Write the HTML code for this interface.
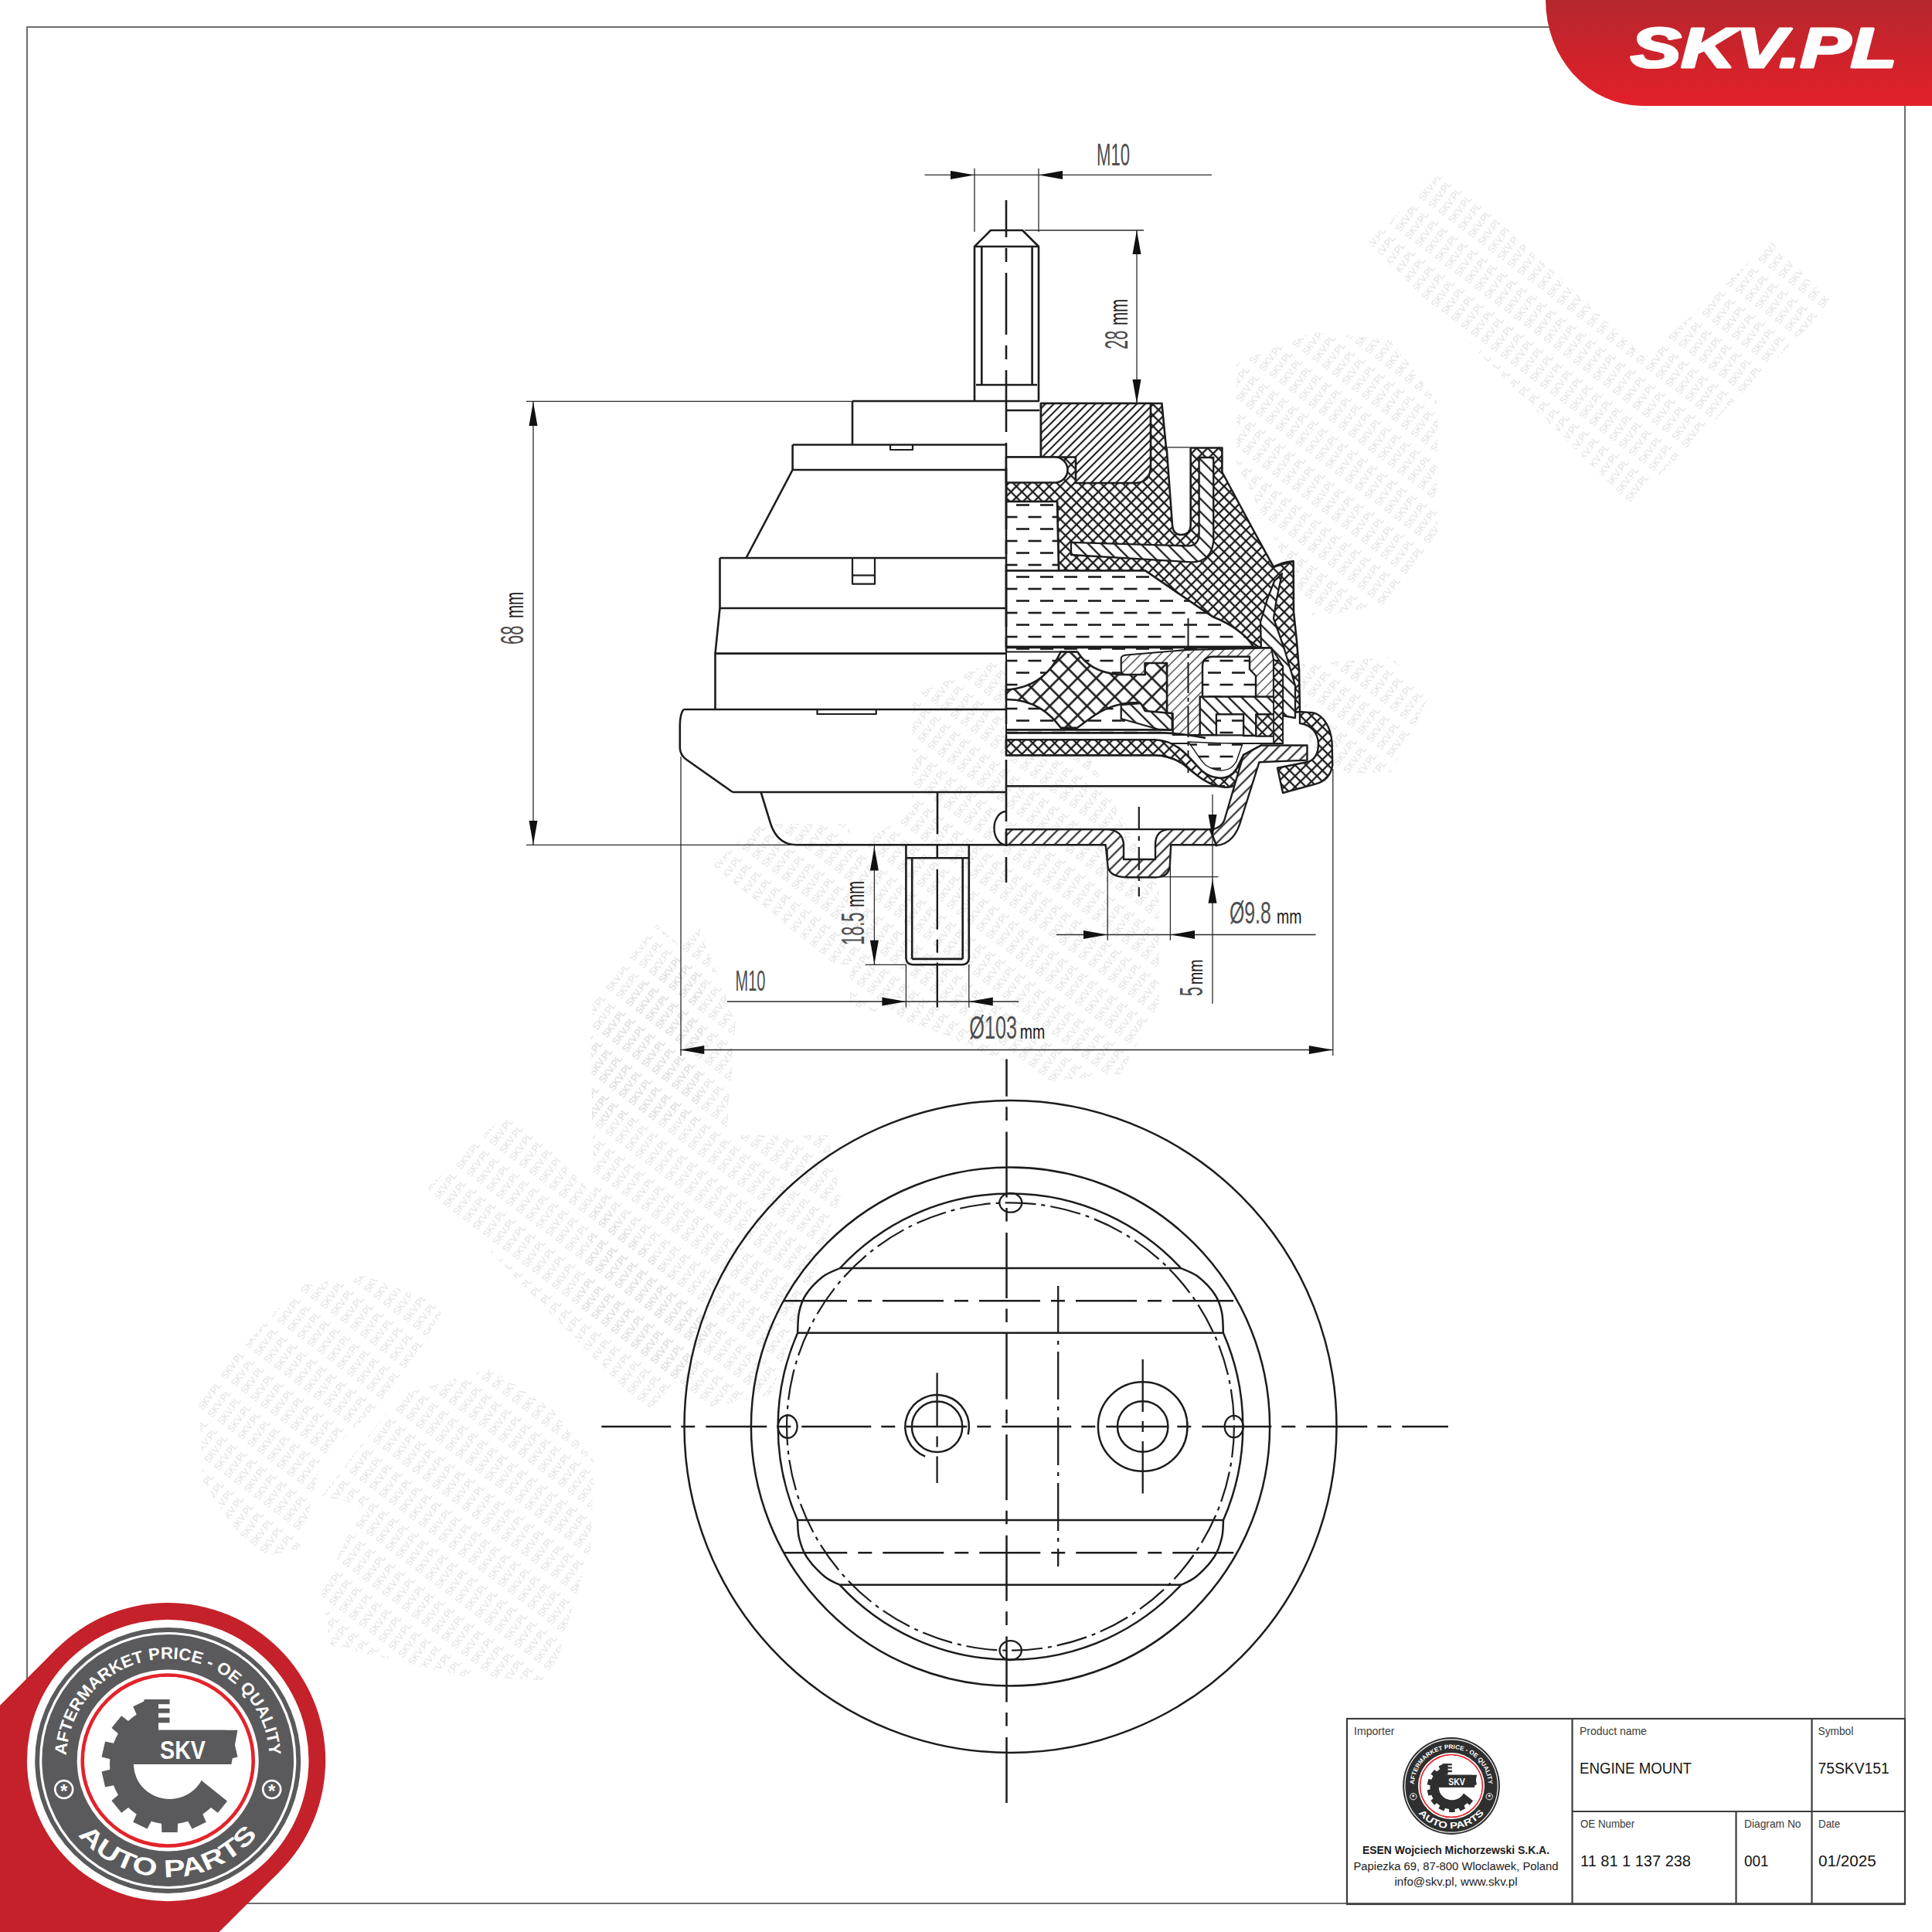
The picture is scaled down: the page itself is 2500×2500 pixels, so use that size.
<!DOCTYPE html><html><head><meta charset="utf-8"><title>75SKV151 Engine Mount</title><style>html,body{margin:0;padding:0;background:#fff;}svg{display:block;}</style></head><body>
<svg width="2500" height="2500" viewBox="0 0 2500 2500">
<rect width="2500" height="2500" fill="#fff"/>
<defs><pattern id="hA" width="7.6" height="7.6" patternUnits="userSpaceOnUse" patternTransform="rotate(45)"><rect width="7.6" height="7.6" fill="#fff"/><line x1="3.8" y1="-1" x2="3.8" y2="8.6" stroke="#1c1c1c" stroke-width="2.1"/></pattern><pattern id="hB" width="12" height="12" patternUnits="userSpaceOnUse" patternTransform="rotate(-45)"><rect width="12" height="12" fill="#fff"/><line x1="6.0" y1="-1" x2="6.0" y2="13" stroke="#1c1c1c" stroke-width="2.3"/></pattern><pattern id="hC" width="10.5" height="10.5" patternUnits="userSpaceOnUse" patternTransform="rotate(45)"><rect width="10.5" height="10.5" fill="#fff"/><line x1="5.25" y1="-1" x2="5.25" y2="11.5" stroke="#1c1c1c" stroke-width="2.0"/></pattern><pattern id="hD" width="9" height="9" patternUnits="userSpaceOnUse" patternTransform="rotate(45)"><rect width="9" height="9" fill="#fff"/><line x1="4.5" y1="-1" x2="4.5" y2="10" stroke="#333" stroke-width="1.3"/></pattern><pattern id="xh" width="10" height="10" patternUnits="userSpaceOnUse" patternTransform="rotate(45)"><rect width="10" height="10" fill="#fff"/><line x1="5.0" y1="-1" x2="5.0" y2="11" stroke="#1c1c1c" stroke-width="2.3"/><line x1="-1" y1="5.0" x2="11" y2="5.0" stroke="#1c1c1c" stroke-width="2.3"/></pattern><pattern id="xw" width="17" height="17" patternUnits="userSpaceOnUse" patternTransform="rotate(45)"><rect width="17" height="17" fill="#fff"/><line x1="8.5" y1="-1" x2="8.5" y2="18" stroke="#1c1c1c" stroke-width="2.6"/><line x1="-1" y1="8.5" x2="18" y2="8.5" stroke="#1c1c1c" stroke-width="2.6"/></pattern><pattern id="fl" width="31" height="31" patternUnits="userSpaceOnUse" x="1310" y="651"><rect width="31" height="31" fill="#fff"/><line x1="5" y1="2.5" x2="22" y2="2.5" stroke="#1c1c1c" stroke-width="2.6"/><line x1="20.5" y1="18" x2="37.5" y2="18" stroke="#1c1c1c" stroke-width="2.6"/><line x1="-10.5" y1="18" x2="6.5" y2="18" stroke="#1c1c1c" stroke-width="2.6"/></pattern></defs>
<defs><pattern id="wm" width="50" height="16" patternUnits="userSpaceOnUse" patternTransform="rotate(-53)"><text x="0" y="12" font-family="Liberation Sans" font-size="13.5" fill="#dedede" textLength="41" lengthAdjust="spacingAndGlyphs">SKV.PL</text></pattern></defs>
<path d="M1770.0,313.0 L1868.0,220.0 L2129.0,462.0 L2292.0,313.0 L2371.0,392.0 L2110.0,653.0 Z" fill="url(#wm)"/>
<path d="M1600.0,470.0 L1700.0,430.0 L1800.0,440.0 L1860.0,520.0 L1860.0,700.0 L1800.0,780.0 L1700.0,800.0 L1650.0,700.0 L1600.0,600.0 Z" fill="url(#wm)"/>
<path d="M1180.0,900.0 L1300.0,850.0 L1400.0,960.0 L1500.0,1150.0 L1500.0,1300.0 L1450.0,1390.0 L1360.0,1400.0 L1200.0,1330.0 L1100.0,1300.0 L1100.0,1100.0 L1180.0,1050.0 Z" fill="url(#wm)"/>
<path d="M1680.0,860.0 L1800.0,850.0 L1850.0,900.0 L1800.0,1000.0 L1700.0,1000.0 Z" fill="url(#wm)"/>
<path d="M922.0,1120.0 L980.0,1066.0 L1100.0,1066.0 L1100.0,1248.0 L1080.0,1248.0 Z" fill="url(#wm)"/>
<path d="M766.0,1300.0 L850.0,1196.0 L909.0,1250.0 L909.0,1450.0 L766.0,1450.0 Z" fill="url(#wm)"/>
<path d="M257.0,1805.0 L388.0,1663.0 L473.0,1651.0 L576.0,1691.0 L519.0,1788.0 L416.0,1890.0 L388.0,2004.0 L331.0,2016.0 L263.0,1919.0 Z" fill="url(#wm)"/>
<path d="M519.0,1805.0 L633.0,1771.0 L713.0,1822.0 L769.0,1890.0 L764.0,2004.0 L713.0,2175.0 L599.0,2169.0 L428.0,2129.0 L416.0,2061.0 L468.0,1947.0 L416.0,1936.0 L473.0,1862.0 Z" fill="url(#wm)"/>
<path d="M553.0,1537.0 L661.0,1435.0 L935.0,1719.0 L838.0,1828.0 Z" fill="url(#wm)"/>
<path d="M764.0,1338.0 L906.0,1201.0 L952.0,1321.0 L940.0,1469.0 L1071.0,1469.0 L1088.0,1549.0 L997.0,1805.0 L912.0,1822.0 L838.0,1776.0 L747.0,1691.0 L769.0,1577.0 Z" fill="url(#wm)"/>
<rect x="35" y="35" width="2430" height="2428" fill="none" stroke="#6e6e6e" stroke-width="2"/>
<ellipse cx="1307.5" cy="1846" rx="422" ry="422" fill="none" stroke="#1c1c1c" stroke-width="2.5"/>
<ellipse cx="1307.5" cy="1846" rx="335.6" ry="335.6" fill="none" stroke="#1c1c1c" stroke-width="2.5"/>
<ellipse cx="1307.5" cy="1846" rx="289.4" ry="289.7" fill="none" stroke="#1c1c1c" stroke-width="2.2" stroke-dasharray="40 7 5 7"/>
<path d="M1086.9,1641.0 A300.8,301.5 0 0 1 1528.1,1641.0 C1531.7,1642.8 1542.7,1646.1 1550.0,1651.8 C1557.3,1657.5 1566.8,1667.3 1572.0,1675.0 C1577.2,1682.7 1579.2,1689.7 1581.0,1698.0 C1582.8,1706.3 1582.6,1720.2 1582.9,1724.7 A300.8,301.5 0 0 1 1583.0,1967.0 C1582.7,1970.8 1583.0,1982.0 1581.0,1990.0 C1579.0,1998.0 1576.5,2006.7 1571.0,2015.0 C1565.5,2023.3 1555.1,2034.0 1548.0,2040.0 C1540.9,2046.0 1531.5,2049.0 1528.3,2050.8 A300.8,301.5 0 0 1 1086.7,2050.8 C1083.5,2049.0 1074.1,2046.0 1067.0,2040.0 C1059.9,2034.0 1049.5,2023.3 1044.0,2015.0 C1038.5,2006.7 1036.0,1998.0 1034.0,1990.0 C1032.0,1982.0 1032.3,1970.8 1032.0,1967.0 A300.8,301.5 0 0 1 1032.1,1724.7 C1032.4,1720.2 1032.2,1706.3 1034.0,1698.0 C1035.8,1689.7 1037.8,1682.7 1043.0,1675.0 C1048.2,1667.3 1057.7,1657.5 1065.0,1651.8 C1072.3,1646.1 1083.3,1642.8 1086.9,1641.0" fill="none" stroke="#1c1c1c" stroke-width="2.5" stroke-linejoin="round" />
<line x1="1086.9" y1="1641.0" x2="1528.1" y2="1641.0" stroke="#1c1c1c" stroke-width="2.5" />
<line x1="1032.1" y1="1724.7" x2="1582.9" y2="1724.7" stroke="#1c1c1c" stroke-width="2.5" />
<line x1="1032.0" y1="1967.0" x2="1583.0" y2="1967.0" stroke="#1c1c1c" stroke-width="2.5" />
<line x1="1086.7" y1="2050.8" x2="1528.3" y2="2050.8" stroke="#1c1c1c" stroke-width="2.5" />
<line x1="1014.0" y1="1683.3" x2="1601.0" y2="1683.3" stroke="#1c1c1c" stroke-width="2.5" stroke-dasharray="82 14 18 14 79 14 18 14 79 14 18 14 79 14 18 14 79 14"/>
<line x1="1014.3" y1="2009.3" x2="1600.7" y2="2009.3" stroke="#1c1c1c" stroke-width="2.5" stroke-dasharray="82 14 18 14 79 14 18 14 79 14 18 14 79 14 18 14 79 14"/>
<ellipse cx="1019.2" cy="1846" rx="12.4" ry="14.75" fill="none" stroke="#1c1c1c" stroke-width="2.3"/>
<ellipse cx="1596.7" cy="1846" rx="12" ry="14.2" fill="none" stroke="#1c1c1c" stroke-width="2.3"/>
<ellipse cx="1307.8" cy="1556.3" rx="14.5" ry="12.4" fill="none" stroke="#1c1c1c" stroke-width="2.3"/>
<ellipse cx="1307.7" cy="2135.6" rx="14.2" ry="12.4" fill="none" stroke="#1c1c1c" stroke-width="2.3"/>
<circle cx="1212.6" cy="1846.3" r="32.7" fill="none" stroke="#1c1c1c" stroke-width="2.5"/>
<path d="M1197.1,1884.6 A41.3,41.3 0 1 1 1252.7,1856.3" fill="none" stroke="#1c1c1c" stroke-width="2.5" stroke-linejoin="round" />
<line x1="1212.6" y1="1776.5" x2="1212.6" y2="1919.0" stroke="#1c1c1c" stroke-width="2.3" stroke-dasharray="70 12 14 12"/>
<circle cx="1478.7" cy="1846" r="57.8" fill="none" stroke="#1c1c1c" stroke-width="2.5"/>
<circle cx="1478.7" cy="1846" r="32.7" fill="none" stroke="#1c1c1c" stroke-width="2.5"/>
<line x1="1478.7" y1="1759.0" x2="1478.7" y2="1932.6" stroke="#1c1c1c" stroke-width="2.3" stroke-dasharray="68 12 14 12"/>
<line x1="778.3" y1="1846.0" x2="1874.0" y2="1846.0" stroke="#1c1c1c" stroke-width="2.5" stroke-dasharray="90 13 18 14 79 13 18 14"/>
<line x1="1302.5" y1="2333.0" x2="1302.5" y2="1370.6" stroke="#1c1c1c" stroke-width="2.5" stroke-dasharray="85 14.5 17.6 13.5"/>
<line x1="1369.2" y1="1664.0" x2="1369.2" y2="2027.0" stroke="#1c1c1c" stroke-width="2.3" stroke-dasharray="62 9 5 9"/>
<path d="M1302.0,591.5 L1347.0,591.5 L1347.0,522.0 L1503.4,522.0 L1509.0,579.5 L1581.4,579.5 L1581.4,611.0 L1624.0,690.0 L1648.0,733.6 L1673.6,726.2 L1674.0,792.0 L1678.0,830.0 L1681.0,867.0 L1682.0,921.0 L1660.0,924.0 L1660.0,862.0 L1645.0,850.0 L1630.0,838.0 L1600.0,818.0 L1569.0,798.0 L1482.0,738.5 L1370.0,738.5 L1368.0,649.0 L1302.0,649.0 Z" fill="url(#xh)" stroke="#1c1c1c" stroke-width="2.6" stroke-linejoin="round" />
<path d="M1648,733.6 Q1660,727 1673.6,726.2" fill="none" stroke="#1c1c1c" stroke-width="2.4" stroke-linejoin="round" />
<path d="M1347,522 L1489,522 L1489,603 Q1489,625 1468,625 L1392,625 L1392,591.5 L1347,591.5 Z" fill="url(#hA)" stroke="#1c1c1c" stroke-width="2.6" stroke-linejoin="round" />
<path d="M1302,591.5 L1365,591.5 A16.5,16.5 0 0 1 1365,624.5 L1302,624.5 Z" fill="#fff" stroke="#1c1c1c" stroke-width="2.6" stroke-linejoin="round" />
<path d="M1509.6,579.5 L1517,680 Q1518,692 1528.5,692 Q1540,692 1540.7,680 L1540.7,579.5" fill="#fff" stroke="#1c1c1c" stroke-width="2.6" stroke-linejoin="round" />
<path d="M1386,701.8 L1537.6,706.4 Q1551.6,706 1551.6,690 L1551.6,592 L1570.2,592 L1570.2,700 Q1568,727 1542,727.4 L1386,718 Z" fill="url(#hB)" stroke="#1c1c1c" stroke-width="2.3" stroke-linejoin="round" />
<path d="M1649.0,752.0 L1659.0,742.0 L1652.0,775.0 L1648.0,800.0 L1662.0,840.0 L1676.0,887.0 L1676.0,929.0 L1660.0,926.0 L1660.0,862.0 L1645.0,851.0 L1632.0,840.0 L1631.0,805.0 L1640.0,775.0 Z" fill="url(#hB)" stroke="#1c1c1c" stroke-width="2.3" stroke-linejoin="round" />
<path d="M1302.0,649.0 L1368.0,649.0 L1370.0,738.5 L1302.0,738.5 Z" fill="url(#fl)" stroke="#1c1c1c" stroke-width="2.6" stroke-linejoin="round" />
<path d="M1302,738.5 L1482,738.5 L1569,798 C1590,806 1612,820 1622,837 L1302,837 Z" fill="url(#fl)" stroke="#1c1c1c" stroke-width="2.6" stroke-linejoin="round" />
<path d="M1302,838 L1645,838 L1660,862 L1660,962 L1302,962 Z" fill="url(#fl)" stroke="#1c1c1c" stroke-width="2.0" stroke-linejoin="round" />
<path d="M1450.7,866 L1450.7,852 Q1451,848 1458,847.5 L1537,840.8 L1645,838.5 L1648,853 L1648,902 L1556,902 L1556,951 L1517.7,951 L1517.7,923 L1510,923 L1510,858 L1481.7,858 L1481.7,873 L1456,873 Q1450.7,873 1450.7,866 Z" fill="url(#hD)" stroke="#1c1c1c" stroke-width="2.2" stroke-linejoin="round" />
<path d="M1556,862 Q1556,849.7 1570,849.7 L1617,849.7 L1617,866 L1625,874.5 L1625,902 L1556,902 Z" fill="url(#fl)" stroke="#1c1c1c" stroke-width="2.4" stroke-linejoin="round" />
<path d="M1552.7,901.5 L1651,901.5 L1651,924.4 L1625.4,924.4 L1625.4,952 L1609,952 L1609,924.4 L1574,924.4 L1574,951.3 L1552.7,951.3 Z" fill="url(#hB)" stroke="#1c1c1c" stroke-width="2.4" stroke-linejoin="round" />
<path d="M1574,924.4 L1609,924.4 L1609,951.3 L1574,951.3 Z" fill="url(#fl)" stroke="#1c1c1c" stroke-width="2.2" stroke-linejoin="round" />
<path d="M1625.4,924.4 L1651,924.4 L1651,952.7 L1625.4,952.7 Z" fill="url(#xh)" stroke="#1c1c1c" stroke-width="2.2" stroke-linejoin="round" />
<path d="M1648,853 L1660,862 L1660,962 L1648,962 Z" fill="url(#xh)" stroke="#1c1c1c" stroke-width="1.8" stroke-linejoin="round" />
<path d="M1372.7,843.5 L1394.2,843.5 C1405,860 1420,870 1448,873 L1481.7,873 L1481.7,858 L1510,858 L1510,923 L1481.7,923 L1475,909.4 C1450,908 1430,915 1410,930 L1394,941.7 L1372.7,941.7 C1360,925 1340,905 1302,905 L1302,892.6 C1340,890 1360,870 1372.7,843.5 Z" fill="url(#xw)" stroke="#1c1c1c" stroke-width="2.6" stroke-linejoin="round" />
<path d="M1450.7,912 L1476,910 L1481.7,920 L1516.7,923 L1516.7,944.4 L1500,944 L1450.7,930 Z" fill="url(#hB)" stroke="#1c1c1c" stroke-width="2.3" stroke-linejoin="round" />
<line x1="1537.5" y1="800.0" x2="1537.5" y2="1000.0" stroke="#1c1c1c" stroke-width="2.0" stroke-dasharray="40 6 5 6"/>
<line x1="1302.0" y1="837.5" x2="1625.0" y2="837.5" stroke="#1c1c1c" stroke-width="3.4" />
<line x1="1302.0" y1="843.5" x2="1394.0" y2="843.5" stroke="#1c1c1c" stroke-width="2.2" />
<line x1="1302.0" y1="944.4" x2="1517.0" y2="944.4" stroke="#1c1c1c" stroke-width="2.6" />
<path d="M1302,948.4 L1507,948.4 Q1530,949 1560,955" fill="none" stroke="#1c1c1c" stroke-width="2.6" stroke-linejoin="round" />
<path d="M1302,957.2 L1495,957.2 C1520,958 1535,975 1550,992 C1565,1010 1590,1012 1600,995 L1609,977 L1632,964.5 L1636,972 L1620,990 C1610,1010 1598,1022 1580,1018 C1560,1015 1545,1000 1530,988 C1515,979 1505,977.4 1495,977.4 L1302,977.4 Z" fill="url(#xh)" stroke="#1c1c1c" stroke-width="2.6" stroke-linejoin="round" />
<path d="M1537,960 C1550,960 1560,962 1600,962 L1608,962 L1600,985 C1592,1000 1575,1000 1560,990 C1550,980 1545,968 1537,960 Z" fill="url(#fl)" stroke="#1c1c1c" stroke-width="1.5" stroke-linejoin="round" />
<line x1="1302.0" y1="1017.3" x2="1585.0" y2="1017.3" stroke="#1c1c1c" stroke-width="2.6" />
<path d="M1609,977 L1632,964.5 L1691.5,964.5 L1691.5,983.6 L1629.4,986.3 L1606.5,1059 Q1598,1092 1574,1094 L1566,1074 Q1582,1071 1585,1059 Z" fill="url(#hC)" stroke="#1c1c1c" stroke-width="2.4" stroke-linejoin="round" />
<path d="M1682,921 L1700,922.4 C1712,926 1722,940 1723.6,960.8 L1724.3,990 C1722,1005 1712,1012 1702,1014.6 L1660,1026 L1653,993.7 L1692,986 C1702,983 1706,975 1706,962 C1705,948 1697,938 1682,936 Z" fill="url(#xh)" stroke="#1c1c1c" stroke-width="2.4" stroke-linejoin="round" />
<path d="M1302,1050 A15.5,21.6 0 0 0 1302,1093.3" fill="#fff" stroke="#1c1c1c" stroke-width="2.4" stroke-linejoin="round" />
<path d="M1302,1093.3 L1430.7,1093.3 L1433.2,1117.8 Q1433.2,1135.2 1459,1135.2 L1495.3,1135.2 Q1513.9,1135.2 1513.9,1117.8 L1515.2,1093.3 L1571.5,1093.3 L1574,1094 L1566,1074 L1568.2,1073.1 L1515,1073.1 Q1495,1073 1495,1093 L1495,1112 L1454,1112 L1454,1095 Q1454,1073 1430,1073.1 L1302,1073.1 Z" fill="url(#hC)" stroke="#1c1c1c" stroke-width="2.4" stroke-linejoin="round" />
<line x1="1302.0" y1="1073.1" x2="1568.0" y2="1073.1" stroke="#1c1c1c" stroke-width="2.4" />
<line x1="1473.8" y1="1044.0" x2="1473.8" y2="1160.0" stroke="#1c1c1c" stroke-width="2.2" stroke-dasharray="30 8 6 8"/>
<line x1="1302.0" y1="259.0" x2="1302.0" y2="1142.0" stroke="#1c1c1c" stroke-width="2.6" stroke-dasharray="80 14 18 14" stroke-dashoffset="32"/>
<path d="M1261,519 L1261,319 L1282,298 L1323,298 L1344,319 L1344,519" fill="none" stroke="#1c1c1c" stroke-width="2.6" stroke-linejoin="round" />
<line x1="1261.0" y1="319.0" x2="1344.0" y2="319.0" stroke="#1c1c1c" stroke-width="2.6" />
<line x1="1270.3" y1="319.0" x2="1270.3" y2="498.0" stroke="#1c1c1c" stroke-width="2.6" />
<line x1="1335.6" y1="319.0" x2="1335.6" y2="498.0" stroke="#1c1c1c" stroke-width="2.6" />
<line x1="1263.0" y1="498.0" x2="1342.0" y2="498.0" stroke="#1c1c1c" stroke-width="2.6" />
<line x1="1103.0" y1="519.0" x2="1345.0" y2="519.0" stroke="#1c1c1c" stroke-width="2.6" />
<line x1="1302.0" y1="531.0" x2="1345.0" y2="531.0" stroke="#1c1c1c" stroke-width="2.6" />
<path d="M1103,519 L1103,575.5" fill="none" stroke="#1c1c1c" stroke-width="2.6" stroke-linejoin="round" />
<line x1="1025.6" y1="575.5" x2="1302.0" y2="575.5" stroke="#1c1c1c" stroke-width="2.6" />
<path d="M1025.6,575.5 L1025.6,608" fill="none" stroke="#1c1c1c" stroke-width="2.6" stroke-linejoin="round" />
<line x1="1025.6" y1="608.0" x2="1302.0" y2="608.0" stroke="#1c1c1c" stroke-width="2.6" />
<path d="M1025.6,608 L965.5,722" fill="none" stroke="#1c1c1c" stroke-width="2.6" stroke-linejoin="round" />
<line x1="931.5" y1="722.0" x2="1302.0" y2="722.0" stroke="#1c1c1c" stroke-width="2.6" />
<path d="M931.5,722 L931.5,787 L925.5,845.6 L925.5,918" fill="none" stroke="#1c1c1c" stroke-width="2.6" stroke-linejoin="round" />
<line x1="931.5" y1="787.0" x2="1302.0" y2="787.0" stroke="#1c1c1c" stroke-width="2.6" />
<line x1="925.5" y1="845.6" x2="1302.0" y2="845.6" stroke="#1c1c1c" stroke-width="2.6" />
<line x1="884.5" y1="918.0" x2="1302.0" y2="918.0" stroke="#1c1c1c" stroke-width="2.6" />
<path d="M884.5,918 Q879.8,924 879.8,939.6 L879.8,967.5 Q880,977 888,982.7 L948,1025" fill="none" stroke="#1c1c1c" stroke-width="2.6" stroke-linejoin="round" />
<line x1="948.0" y1="1025.0" x2="1302.0" y2="1025.0" stroke="#1c1c1c" stroke-width="2.6" />
<path d="M984.6,1025 L997,1065.4 Q1006,1093.3 1031,1093.3 L1302,1093.3" fill="none" stroke="#1c1c1c" stroke-width="2.6" stroke-linejoin="round" />
<path d="M1152,575.5 L1152,582 L1181,582 L1181,575.5" fill="none" stroke="#1c1c1c" stroke-width="2.2" stroke-linejoin="round" />
<path d="M1103,722 L1103,755.7 L1132,755.7 L1132,722" fill="none" stroke="#1c1c1c" stroke-width="2.2" stroke-linejoin="round" />
<line x1="1103.0" y1="744.5" x2="1132.0" y2="744.5" stroke="#1c1c1c" stroke-width="2.2" />
<path d="M1057.5,918 L1057.5,924 L1133.7,924 L1133.7,918" fill="none" stroke="#1c1c1c" stroke-width="2.2" stroke-linejoin="round" />
<line x1="1213.0" y1="1025.0" x2="1213.0" y2="1079.4" stroke="#1c1c1c" stroke-width="2.6" />
<path d="M1172.4,1093.3 L1172.4,1240 Q1173,1248 1181,1248.3 L1245,1248.3 Q1253.5,1248 1253.8,1240 L1253.8,1093.3" fill="none" stroke="#1c1c1c" stroke-width="2.6" stroke-linejoin="round" />
<line x1="1172.4" y1="1110.2" x2="1253.8" y2="1110.2" stroke="#1c1c1c" stroke-width="2.6" />
<line x1="1212.8" y1="1093.3" x2="1212.8" y2="1110.2" stroke="#1c1c1c" stroke-width="2.6" />
<line x1="1180.2" y1="1110.2" x2="1180.2" y2="1240.9" stroke="#1c1c1c" stroke-width="2.6" />
<line x1="1245.7" y1="1110.2" x2="1245.7" y2="1240.9" stroke="#1c1c1c" stroke-width="2.6" />
<line x1="1180.2" y1="1240.9" x2="1245.7" y2="1240.9" stroke="#1c1c1c" stroke-width="2.6" />
<line x1="1212.8" y1="1124.7" x2="1212.8" y2="1303.6" stroke="#1c1c1c" stroke-width="2.4" stroke-dasharray="78 13 17 13"/>
<line x1="1196.6" y1="226.4" x2="1568.0" y2="226.4" stroke="#2a2a2a" stroke-width="1.3" />
<line x1="1261.0" y1="218.0" x2="1261.0" y2="300.0" stroke="#2a2a2a" stroke-width="1.3" />
<line x1="1344.0" y1="218.0" x2="1344.0" y2="300.0" stroke="#2a2a2a" stroke-width="1.3" />
<polygon points="1261.0,226.4 1230.0,231.9 1230.0,220.9" fill="#111"/>
<polygon points="1344.0,226.4 1375.0,220.9 1375.0,231.9" fill="#111"/>
<text transform="translate(1419.0,214.0) scale(0.54,1)" font-family="Liberation Sans" font-size="41" font-weight="normal" fill="#4e4e4e" text-anchor="start">M10</text>
<line x1="1326.0" y1="298.0" x2="1480.0" y2="298.0" stroke="#2a2a2a" stroke-width="1.3" />
<line x1="1471.0" y1="298.0" x2="1471.0" y2="522.0" stroke="#2a2a2a" stroke-width="1.3" />
<polygon points="1471.0,298.0 1476.5,329.0 1465.5,329.0" fill="#111"/>
<polygon points="1471.0,522.0 1465.5,491.0 1476.5,491.0" fill="#111"/>
<text transform="translate(1459.0,452.0) rotate(-90) scale(0.52,1)" font-family="Liberation Sans" font-size="42" font-weight="normal" fill="#4e4e4e" text-anchor="start">28</text>
<text transform="translate(1459.0,421.0) rotate(-90) scale(0.62,1)" font-family="Liberation Sans" font-size="33" font-weight="normal" fill="#1a1a1a" text-anchor="start">mm</text>
<line x1="681.0" y1="519.4" x2="1103.0" y2="519.4" stroke="#2a2a2a" stroke-width="1.3" />
<line x1="681.0" y1="1093.3" x2="1031.0" y2="1093.3" stroke="#2a2a2a" stroke-width="1.3" />
<line x1="690.0" y1="519.4" x2="690.0" y2="1093.3" stroke="#2a2a2a" stroke-width="1.3" />
<polygon points="690.0,520.0 695.5,551.0 684.5,551.0" fill="#111"/>
<polygon points="690.0,1093.0 684.5,1062.0 695.5,1062.0" fill="#111"/>
<text transform="translate(677.0,834.0) rotate(-90) scale(0.52,1)" font-family="Liberation Sans" font-size="42" font-weight="normal" fill="#4e4e4e" text-anchor="start">68</text>
<text transform="translate(677.0,800.0) rotate(-90) scale(0.62,1)" font-family="Liberation Sans" font-size="33" font-weight="normal" fill="#1a1a1a" text-anchor="start">mm</text>
<line x1="1131.4" y1="1093.3" x2="1131.4" y2="1248.3" stroke="#2a2a2a" stroke-width="1.3" />
<line x1="1119.6" y1="1248.3" x2="1172.0" y2="1248.3" stroke="#2a2a2a" stroke-width="1.3" />
<polygon points="1131.4,1095.5 1136.9,1126.5 1125.9,1126.5" fill="#111"/>
<polygon points="1131.4,1247.7 1125.9,1216.7 1136.9,1216.7" fill="#111"/>
<text transform="translate(1118.4,1223.0) rotate(-90) scale(0.52,1)" font-family="Liberation Sans" font-size="42" font-weight="normal" fill="#4e4e4e" text-anchor="start">18.5</text>
<text transform="translate(1118.4,1174.0) rotate(-90) scale(0.62,1)" font-family="Liberation Sans" font-size="33" font-weight="normal" fill="#1a1a1a" text-anchor="start">mm</text>
<line x1="940.8" y1="1296.0" x2="1318.0" y2="1296.0" stroke="#2a2a2a" stroke-width="1.3" />
<line x1="1172.4" y1="1248.0" x2="1172.4" y2="1303.6" stroke="#2a2a2a" stroke-width="1.3" />
<line x1="1253.8" y1="1248.0" x2="1253.8" y2="1303.6" stroke="#2a2a2a" stroke-width="1.3" />
<polygon points="1172.4,1296.0 1141.4,1301.5 1141.4,1290.5" fill="#111"/>
<polygon points="1253.8,1296.0 1284.8,1290.5 1284.8,1301.5" fill="#111"/>
<text transform="translate(951.5,1282.0) scale(0.54,1)" font-family="Liberation Sans" font-size="37" font-weight="normal" fill="#4e4e4e" text-anchor="start">M10</text>
<line x1="880.3" y1="1358.5" x2="1724.8" y2="1358.5" stroke="#2a2a2a" stroke-width="1.3" />
<line x1="881.0" y1="979.0" x2="881.0" y2="1366.0" stroke="#2a2a2a" stroke-width="1.3" />
<line x1="1724.8" y1="995.0" x2="1724.8" y2="1366.0" stroke="#2a2a2a" stroke-width="1.3" />
<polygon points="880.3,1358.5 911.3,1353.0 911.3,1364.0" fill="#111"/>
<polygon points="1724.8,1358.5 1693.8,1364.0 1693.8,1353.0" fill="#111"/>
<text transform="translate(1254.3,1344.0) scale(0.6,1)" font-family="Liberation Sans" font-size="42" font-weight="normal" fill="#4e4e4e" text-anchor="start">Ø103</text>
<text transform="translate(1319.8,1344.0) scale(0.75,1)" font-family="Liberation Sans" font-size="26" font-weight="normal" fill="#1a1a1a" text-anchor="start">mm</text>
<line x1="1367.0" y1="1209.5" x2="1702.5" y2="1209.5" stroke="#2a2a2a" stroke-width="1.3" />
<line x1="1433.2" y1="1100.0" x2="1433.2" y2="1216.7" stroke="#2a2a2a" stroke-width="1.3" />
<line x1="1514.4" y1="1100.0" x2="1514.4" y2="1216.7" stroke="#2a2a2a" stroke-width="1.3" />
<polygon points="1433.0,1209.5 1402.0,1215.0 1402.0,1204.0" fill="#111"/>
<polygon points="1515.0,1209.5 1546.0,1204.0 1546.0,1215.0" fill="#111"/>
<text transform="translate(1591.0,1195.0) scale(0.62,1)" font-family="Liberation Sans" font-size="40" font-weight="normal" fill="#4e4e4e" text-anchor="start">Ø9.8</text>
<text transform="translate(1652.0,1195.0) scale(0.75,1)" font-family="Liberation Sans" font-size="26" font-weight="normal" fill="#1a1a1a" text-anchor="start">mm</text>
<line x1="1569.0" y1="1028.0" x2="1569.0" y2="1298.8" stroke="#2a2a2a" stroke-width="1.3" />
<line x1="1495.0" y1="1134.7" x2="1576.5" y2="1134.7" stroke="#2a2a2a" stroke-width="1.3" />
<polygon points="1569.0,1085.0 1563.5,1054.0 1574.5,1054.0" fill="#111"/>
<polygon points="1569.0,1137.7 1574.5,1168.7 1563.5,1168.7" fill="#111"/>
<text transform="translate(1555.5,1289.0) rotate(-90) scale(0.52,1)" font-family="Liberation Sans" font-size="42" font-weight="normal" fill="#4e4e4e" text-anchor="start">5</text>
<text transform="translate(1555.5,1274.0) rotate(-90) scale(0.75,1)" font-family="Liberation Sans" font-size="26" font-weight="normal" fill="#1a1a1a" text-anchor="start">mm</text>
<g stroke="#3c3c3c" stroke-width="2.2" fill="none">
<rect x="1743" y="2224" width="722" height="240"/>
<line x1="2034.5" y1="2224" x2="2034.5" y2="2464"/>
<line x1="2344.5" y1="2224" x2="2344.5" y2="2464"/>
<line x1="2034.5" y1="2344" x2="2465" y2="2344"/>
<line x1="2246.5" y1="2344" x2="2246.5" y2="2464"/>
</g>
<text x="1752" y="2245" font-family="Liberation Sans" font-size="14.5" fill="#3a3a3a" textLength="52.5" lengthAdjust="spacingAndGlyphs">Importer</text>
<text x="2044" y="2245" font-family="Liberation Sans" font-size="14.5" fill="#3a3a3a" textLength="86.8" lengthAdjust="spacingAndGlyphs">Product name</text>
<text x="2352.6" y="2245" font-family="Liberation Sans" font-size="14.5" fill="#3a3a3a" textLength="45.6" lengthAdjust="spacingAndGlyphs">Symbol</text>
<text x="2045" y="2365" font-family="Liberation Sans" font-size="14.5" fill="#3a3a3a" textLength="70.2" lengthAdjust="spacingAndGlyphs">OE Number</text>
<text x="2257" y="2365" font-family="Liberation Sans" font-size="14.5" fill="#3a3a3a" textLength="73.5" lengthAdjust="spacingAndGlyphs">Diagram No</text>
<text x="2353" y="2365" font-family="Liberation Sans" font-size="14.5" fill="#3a3a3a" textLength="28.3" lengthAdjust="spacingAndGlyphs">Date</text>
<text x="2044" y="2295" font-family="Liberation Sans" font-size="20.5" fill="#151515" textLength="145" lengthAdjust="spacingAndGlyphs">ENGINE MOUNT</text>
<text x="2352.6" y="2295" font-family="Liberation Sans" font-size="20.5" fill="#151515" textLength="92" lengthAdjust="spacingAndGlyphs">75SKV151</text>
<text x="2045" y="2415" font-family="Liberation Sans" font-size="20.5" fill="#151515" textLength="143" lengthAdjust="spacingAndGlyphs">11 81 1 137 238</text>
<text x="2257" y="2415" font-family="Liberation Sans" font-size="20.5" fill="#151515" textLength="31.5" lengthAdjust="spacingAndGlyphs">001</text>
<text x="2353" y="2415" font-family="Liberation Sans" font-size="20.5" fill="#151515" textLength="74.7" lengthAdjust="spacingAndGlyphs">01/2025</text>
<text x="1884" y="2399" font-family="Liberation Sans" font-size="15.5" font-weight="bold" fill="#1a1a1a" text-anchor="middle" textLength="242" lengthAdjust="spacingAndGlyphs">ESEN Wojciech Michorzewski S.K.A.</text>
<text x="1884" y="2419.5" font-family="Liberation Sans" font-size="15.5" fill="#1a1a1a" text-anchor="middle" textLength="265" lengthAdjust="spacingAndGlyphs">Papiezka 69, 87-800 Wloclawek, Poland</text>
<text x="1884" y="2440" font-family="Liberation Sans" font-size="15.5" fill="#1a1a1a" text-anchor="middle" textLength="159" lengthAdjust="spacingAndGlyphs">info@skv.pl, www.skv.pl</text>
<defs><linearGradient id="bg" x1="0" y1="0" x2="0" y2="1"><stop offset="0" stop-color="#b5272e"/><stop offset="0.45" stop-color="#cb232b"/><stop offset="1" stop-color="#e3202a"/></linearGradient></defs>
<path d="M2000,0 L2500,0 L2500,137 L2125,137 A125,137 0 0 1 2000,0 Z" fill="url(#bg)"/>
<text transform="translate(2110,87) scale(1.3,1)" font-family="Liberation Sans" font-weight="bold" font-style="italic" font-size="72" fill="#fff" stroke="#fff" stroke-width="3.2" stroke-linejoin="round" textLength="265" lengthAdjust="spacingAndGlyphs">SKV.PL</text>
<polygon points="73.0,2133.8 361.4,2422.2 -238.6,3022.2 -527.0,2733.8" fill="#c4212b"/>
<circle cx="217.2" cy="2278" r="204.0" fill="#c4212b"/>
<circle cx="217.2" cy="2278" r="182.3" fill="#ffffff"/>
<circle cx="217.2" cy="2278" r="172.0" fill="#5a5a5c"/>
<circle cx="217.2" cy="2278" r="164.5" fill="none" stroke="#fff" stroke-width="3.20"/>
<circle cx="217.2" cy="2278" r="117.5" fill="#fff"/>
<circle cx="217.2" cy="2278" r="110.5" fill="none" stroke="#e3232b" stroke-width="4.60"/>
<clipPath id="gca"><circle cx="217.2" cy="2278" r="108.0"/></clipPath><g clip-path="url(#gca)">
<polygon points="236.7,2358.6 230.0,2359.8 229.7,2370.9 209.3,2370.9 209.0,2359.8 202.2,2358.6 195.7,2356.7 190.5,2366.6 172.2,2357.8 176.7,2347.6 171.2,2343.6 166.0,2339.1 157.1,2345.8 144.4,2329.9 152.9,2322.7 149.7,2316.6 147.0,2310.3 136.1,2312.5 131.5,2292.6 142.3,2289.8 142.0,2283.0 142.3,2276.2 131.5,2273.4 136.1,2253.5 147.0,2255.7 149.7,2249.4 152.9,2243.3 144.4,2236.1 157.1,2220.2 166.0,2226.9 171.2,2222.4 176.7,2218.4 172.2,2208.2 190.5,2199.4 195.7,2209.3 202.3,2207.4 209.0,2206.2 209.3,2195.1 229.7,2195.1 230.0,2206.2 236.8,2207.4 243.3,2209.3 248.5,2199.4 266.8,2208.2 262.3,2218.4 267.8,2222.4 273.0,2226.9 281.9,2220.2 294.6,2236.1 286.1,2243.3 289.3,2249.4 292.0,2255.7 302.9,2253.5 307.5,2273.4 296.7,2276.2 297.0,2283.0 296.7,2289.8 307.5,2292.6 302.9,2312.5 292.0,2310.3 289.3,2316.6 286.1,2322.7 294.6,2329.9 281.9,2345.8 273.0,2339.1 267.8,2343.6 262.3,2347.6 266.8,2357.8 248.5,2366.6 243.3,2356.7" fill="#5a5a5c"/>
<polygon points="194.5,2163.0 339.5,2163.0 339.5,2238.7 194.5,2238.7" fill="#fff"/>
<polygon points="219.5,2283.0 339.5,2283.0 339.5,2367.0 248.0,2293.7" fill="#fff"/>
<path d="M173.0,2283.0 A46.5,45.0 0 0 0 266.0,2283.0 Z" fill="#fff"/>
<polygon points="194.5,2238.7 307.5,2238.7 299.3,2283.0 172.5,2283.0 172.5,2238.7" fill="#5a5a5c"/>
<rect x="186.5" y="2199.0" width="18.5" height="40.0" fill="#5a5a5c"/>
<rect x="194.5" y="2199.0" width="25.0" height="6.2" fill="#5a5a5c"/>
<rect x="194.5" y="2210.7" width="25.0" height="6.0" fill="#5a5a5c"/>
<rect x="194.5" y="2222.5" width="25.0" height="6.8" fill="#5a5a5c"/>
</g>
<text x="236.5" y="2276.2" font-family="Liberation Sans" font-weight="bold" font-size="33.0" fill="#fff" text-anchor="middle" textLength="59.0" lengthAdjust="spacingAndGlyphs">SKV</text>
<circle cx="82.7" cy="2315.5" r="11.5" fill="none" stroke="#fff" stroke-width="2.60"/>
<text x="82.7" y="2325.5" font-family="Liberation Sans" font-weight="bold" font-size="24.0" fill="#fff" text-anchor="middle">*</text>
<circle cx="351.7" cy="2315.5" r="11.5" fill="none" stroke="#fff" stroke-width="2.60"/>
<text x="351.7" y="2325.5" font-family="Liberation Sans" font-weight="bold" font-size="24.0" fill="#fff" text-anchor="middle">*</text>
<path id="tpa" d="M103.32,2343.75 A131.50,131.50 0 1 1 331.08,2343.75" fill="none"/>
<text font-family="Liberation Sans" font-weight="bold" font-size="21.5" fill="#fff" text-anchor="middle"><textPath href="#tpa" startOffset="50%" textLength="400.0" lengthAdjust="spacingAndGlyphs">AFTERMARKET  PRICE - OE QUALITY</textPath></text>
<path id="bpa" d="M66.20,2278.00 A151.00,151.00 0 0 0 368.20,2278.00" fill="none"/>
<text font-family="Liberation Sans" font-weight="bold" font-size="32.0" fill="#fff" text-anchor="middle"><textPath href="#bpa" startOffset="50%" textLength="265.0" lengthAdjust="spacingAndGlyphs">AUTO PARTS</textPath></text>
<circle cx="1878" cy="2311" r="64.4" fill="#ffffff"/>
<circle cx="1878" cy="2311" r="62.9" fill="#2f2f2f"/>
<circle cx="1878" cy="2311" r="60.2" fill="none" stroke="#fff" stroke-width="1.17"/>
<circle cx="1878" cy="2311" r="43.0" fill="#fff"/>
<circle cx="1878" cy="2311" r="40.4" fill="none" stroke="#e3232b" stroke-width="1.68"/>
<clipPath id="gcb"><circle cx="1878" cy="2311" r="39.5"/></clipPath><g clip-path="url(#gcb)">
<polygon points="1885.1,2340.5 1882.7,2340.9 1882.6,2345.0 1875.1,2345.0 1875.0,2340.9 1872.5,2340.5 1870.1,2339.8 1868.2,2343.4 1861.5,2340.2 1863.2,2336.5 1861.2,2335.0 1859.3,2333.3 1856.0,2335.8 1851.4,2330.0 1854.5,2327.3 1853.3,2325.1 1852.3,2322.8 1848.3,2323.6 1846.7,2316.4 1850.6,2315.3 1850.5,2312.8 1850.6,2310.3 1846.7,2309.3 1848.3,2302.0 1852.3,2302.8 1853.3,2300.5 1854.5,2298.3 1851.4,2295.7 1856.0,2289.9 1859.3,2292.3 1861.2,2290.7 1863.2,2289.2 1861.5,2285.5 1868.2,2282.2 1870.1,2285.9 1872.5,2285.2 1875.0,2284.7 1875.1,2280.7 1882.6,2280.7 1882.7,2284.7 1885.2,2285.2 1887.6,2285.9 1889.4,2282.2 1896.1,2285.5 1894.5,2289.2 1896.5,2290.7 1898.4,2292.3 1901.7,2289.9 1906.3,2295.7 1903.2,2298.3 1904.4,2300.5 1905.4,2302.8 1909.4,2302.0 1911.0,2309.3 1907.1,2310.3 1907.2,2312.8 1907.1,2315.3 1911.0,2316.4 1909.4,2323.6 1905.4,2322.8 1904.4,2325.1 1903.2,2327.3 1906.3,2330.0 1901.7,2335.8 1898.4,2333.3 1896.5,2335.0 1894.5,2336.5 1896.1,2340.2 1889.4,2343.4 1887.6,2339.8" fill="#2f2f2f"/>
<polygon points="1869.6986100000001,2268.9445 1922.72511,2268.9445 1922.72511,2296.62799 1869.6986100000001,2296.62799" fill="#fff"/>
<polygon points="1878.84111,2312.8285 1922.72511,2312.8285 1922.72511,2343.5473 1889.26356,2316.74149" fill="#fff"/>
<path d="M1861.83606,2312.8285 A17.00505,16.456500000000002 0 0 0 1895.84616,2312.8285 Z" fill="#fff"/>
<polygon points="1869.6986100000001,2296.62799 1911.0227100000002,2296.62799 1908.02397,2312.8285 1861.6532100000002,2312.8285 1861.6532100000002,2296.62799" fill="#2f2f2f"/>
<rect x="1866.77301" y="2282.1097" width="6.76545" height="14.628" fill="#2f2f2f"/>
<rect x="1869.6986100000001" y="2282.1097" width="9.1425" height="2.2673400000000004" fill="#2f2f2f"/>
<rect x="1869.6986100000001" y="2286.38839" width="9.1425" height="2.1942000000000004" fill="#2f2f2f"/>
<rect x="1869.6986100000001" y="2290.70365" width="9.1425" height="2.4867600000000003" fill="#2f2f2f"/>
</g>
<text x="1885.05801" y="2310.3417400000003" font-family="Liberation Sans" font-weight="bold" font-size="12.1" fill="#fff" text-anchor="middle" textLength="21.6" lengthAdjust="spacingAndGlyphs">SKV</text>
<circle cx="1828.8" cy="2324.7" r="4.2" fill="none" stroke="#fff" stroke-width="0.95"/>
<text x="1828.8" y="2328.4" font-family="Liberation Sans" font-weight="bold" font-size="8.8" fill="#fff" text-anchor="middle">*</text>
<circle cx="1927.2" cy="2324.7" r="4.2" fill="none" stroke="#fff" stroke-width="0.95"/>
<text x="1927.2" y="2328.4" font-family="Liberation Sans" font-weight="bold" font-size="8.8" fill="#fff" text-anchor="middle">*</text>
<path id="tpb" d="M1836.35,2335.04 A48.09,48.09 0 1 1 1919.65,2335.04" fill="none"/>
<text font-family="Liberation Sans" font-weight="bold" font-size="7.9" fill="#fff" text-anchor="middle"><textPath href="#tpb" startOffset="50%" textLength="146.3" lengthAdjust="spacingAndGlyphs">AFTERMARKET  PRICE - OE QUALITY</textPath></text>
<path id="bpb" d="M1822.78,2311.00 A55.22,55.22 0 0 0 1933.22,2311.00" fill="none"/>
<text font-family="Liberation Sans" font-weight="bold" font-size="11.7" fill="#fff" text-anchor="middle"><textPath href="#bpb" startOffset="50%" textLength="96.9" lengthAdjust="spacingAndGlyphs">AUTO PARTS</textPath></text>
</svg></body></html>
